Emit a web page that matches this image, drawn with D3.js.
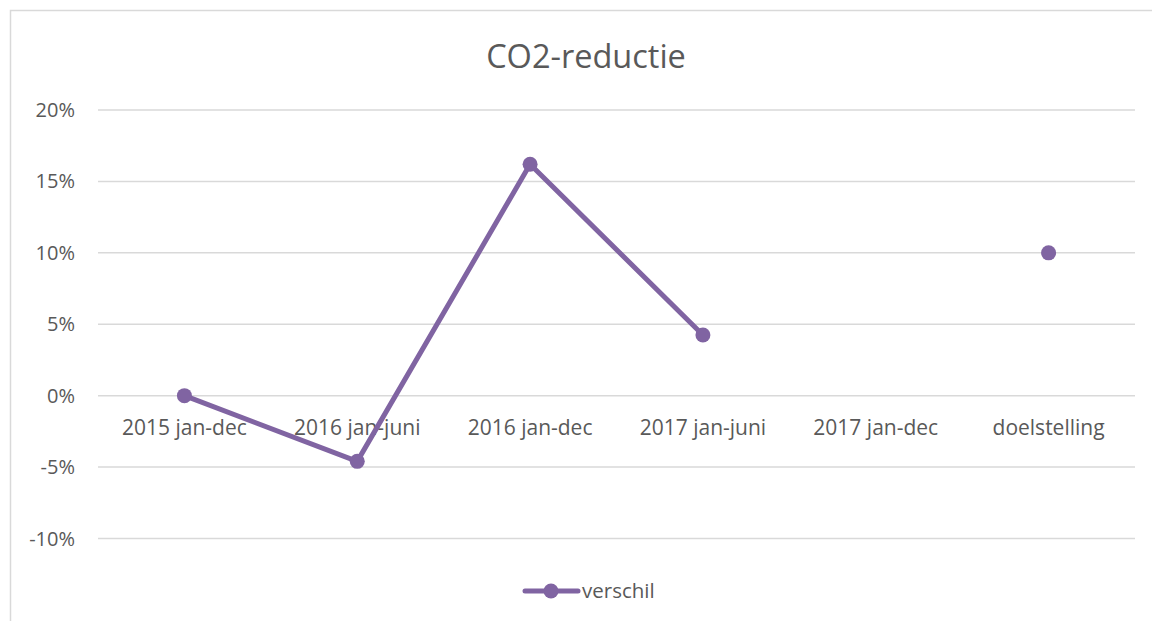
<!DOCTYPE html>
<html>
  <head>
    <meta charset="utf-8" />
    <script src="https://d3js.org/d3.v7.min.js"></script>
    <style>
        body { margin: 0; background: #fff; }
        text { font-family: "Open Sans", "Noto Sans", sans-serif; fill: #595959; }
    </style>
  </head>
  <body>
    <svg id="chart" width="1152" height="621"></svg>

    <script>
        var categories = ["2015 jan-dec", "2016 jan-juni", "2016 jan-dec", "2017 jan-juni", "2017 jan-dec", "doelstelling"];
        var verschil = [0, -4.6, 16.2, 4.25, null, 10];
        var yTicks = [-10, -5, 0, 5, 10, 15, 20];

        var svg = d3.select("#chart");
        var purple = "#8064a2";

        // chart border (runs off the right and bottom)
        svg.append("rect")
            .attr("x", 10.5).attr("y", 10.5)
            .attr("width", 1200).attr("height", 700)
            .attr("fill", "none")
            .attr("stroke", "#d9d9d9")
            .attr("stroke-width", 1.5);

        var plotLeft = 98, plotRight = 1135, plotTop = 110, plotBottom = 538.5;

        var x = d3.scaleBand().domain(categories).range([plotLeft, plotRight]);
        var y = d3.scaleLinear().domain([-10, 20]).range([plotBottom, plotTop]);

        // gridlines
        svg.append("g").selectAll("line")
            .data(yTicks)
            .enter().append("line")
            .attr("x1", plotLeft).attr("x2", plotRight)
            .attr("y1", function(d) { return y(d); })
            .attr("y2", function(d) { return y(d); })
            .attr("stroke", "#d9d9d9")
            .attr("stroke-width", 1.5);

        // y labels
        svg.append("g").selectAll("text")
            .data(yTicks)
            .enter().append("text")
            .attr("x", 75)
            .attr("y", function(d) { return y(d) + 7; })
            .attr("text-anchor", "end")
            .style("font-size", "20px")
            .text(function(d) { return d + "%"; });

        // x labels, drawn just under the 0% line
        svg.append("g").selectAll("text")
            .data(categories)
            .enter().append("text")
            .attr("x", function(d) { return x(d) + x.bandwidth() / 2; })
            .attr("y", y(0) + 39)
            .attr("text-anchor", "middle")
            .style("font-size", "21px")
            .text(function(d) { return d; });

        var points = categories.map(function(c, i) { return { cat: c, value: verschil[i] }; });

        var line = d3.line()
            .defined(function(d) { return d.value !== null; })
            .x(function(d) { return x(d.cat) + x.bandwidth() / 2; })
            .y(function(d) { return y(d.value); });

        svg.append("path")
            .datum(points)
            .attr("d", line)
            .attr("fill", "none")
            .attr("stroke", purple)
            .attr("stroke-width", 5)
            .attr("stroke-linejoin", "round")
            .attr("stroke-linecap", "round");

        svg.append("g").selectAll("circle")
            .data(points.filter(function(d) { return d.value !== null; }))
            .enter().append("circle")
            .attr("cx", function(d) { return x(d.cat) + x.bandwidth() / 2; })
            .attr("cy", function(d) { return y(d.value); })
            .attr("r", 7.5)
            .attr("fill", purple);

        // title
        svg.append("text")
            .attr("x", 586)
            .attr("y", 68)
            .attr("text-anchor", "middle")
            .style("font-size", "32.5px")
            .text("CO2-reductie");

        // legend
        var lg = svg.append("g");
        lg.append("line")
            .attr("x1", 525).attr("x2", 578)
            .attr("y1", 591).attr("y2", 591)
            .attr("stroke", purple)
            .attr("stroke-width", 5)
            .attr("stroke-linecap", "round");
        lg.append("circle")
            .attr("cx", 551).attr("cy", 591).attr("r", 7.5)
            .attr("fill", purple);
        lg.append("text")
            .attr("x", 582).attr("y", 598)
            .style("font-size", "20.5px")
            .text("verschil");
    </script>
  </body>
</html>
